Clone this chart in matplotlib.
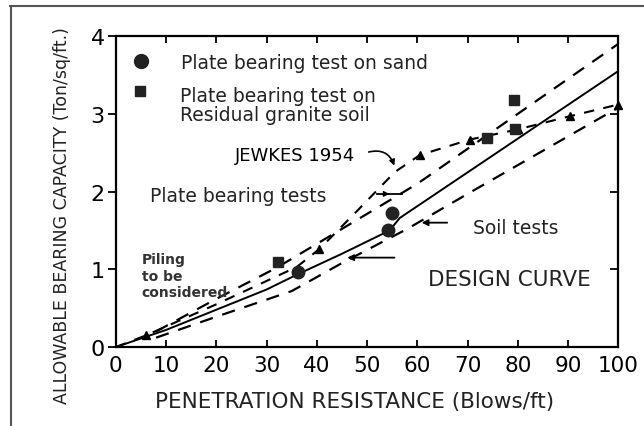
import matplotlib
matplotlib.use("Agg")
import matplotlib.pyplot as plt
from matplotlib.lines import Line2D

# values
design_x = [0, 10, 20, 30, 36, 45, 54.5, 56.5, 100]
design_y = [0, 0.22, 0.48, 0.74, 0.93, 1.2, 1.5, 1.66, 3.55]

upper_x = [8, 20, 32, 45, 60, 80, 100]
upper_y = [0.2, 0.62, 1.02, 1.52, 2.1, 3.0, 3.9]

lower_x = [8, 20, 35, 45, 58, 70, 100]
lower_y = [0.12, 0.39, 0.72, 1.08, 1.52, 1.97, 3.08]

jewkes_x = [0, 6, 20, 36, 40.5, 48, 55.5, 60.5, 70.5, 80, 90.4, 100]
jewkes_y = [0, 0.15, 0.55, 1.03, 1.26, 1.75, 2.25, 2.47, 2.67, 2.8, 2.97, 3.12]
tri_x = [6, 40.5, 60.5, 70.5, 80, 90.4, 100]
tri_y = [0.15, 1.26, 2.47, 2.67, 2.8, 2.97, 3.12]

sand_x = [36.3, 54.2, 54.9]
sand_y = [0.97, 1.50, 1.73]

granite_x = [32.3, 73.8, 79.2, 79.5]
granite_y = [1.09, 2.69, 3.18, 2.80]

xticks = [0, 10, 20, 30, 40, 50, 60, 70, 80, 90, 100]
yticks = [0, 1, 2, 3, 4]

plt.rcParams['font.family'] = ['DejaVu Sans']

fig = plt.figure(figsize=(6.44, 4.27), dpi=100)
ax = fig.add_axes([0.180, 0.185, 0.780, 0.728])

ax.plot(design_x, design_y, color='black', lw=1.4)
ax.plot(upper_x, upper_y, color='black', lw=1.6, dashes=(6, 4.5))
ax.plot(lower_x, lower_y, color='black', lw=1.6, dashes=(6, 4.5))
ax.plot(jewkes_x, jewkes_y, color='black', lw=1.5, dashes=(5, 4.5))
ax.plot(tri_x, tri_y, ls='none', marker='^', ms=6, color='black', clip_on=False)
ax.plot(sand_x, sand_y, ls='none', marker='o', ms=9, color='#222222', clip_on=False)
ax.plot(granite_x, granite_y, ls='none', marker='s', ms=7.5, color='#222222')

# legend drawn by hand, as in the original figure
ax.plot([5], [3.68], ls='none', marker='o', ms=10, color='#222222')
ax.plot([4.8], [3.30], ls='none', marker='s', ms=7, color='#222222')
ax.text(13, 3.66, 'Plate bearing test on sand', fontsize=13.5, va='center', color='#222222')
ax.text(12.8, 3.12, 'Plate bearing test on\nResidual granite soil', fontsize=13.5,
        va='center', linespacing=1.0, color='#222222')

ax.text(23.7, 2.47, 'JEWKES 1954', fontsize=13, va='center')
ax.annotate('', xy=(55.6, 2.3), xytext=(49.8, 2.5),
            arrowprops=dict(arrowstyle='-|>', color='black', lw=1.2,
                            connectionstyle='arc3,rad=-0.5', mutation_scale=8))

ax.text(6.8, 1.95, 'Plate bearing tests', fontsize=13.5, va='center', color='#222222')
ax.plot([52, 57], [1.97, 1.97], color='black', lw=1.3)
ax.annotate('', xy=(55, 1.97), xytext=(53.5, 1.97),
            arrowprops=dict(arrowstyle='-|>', color='black', lw=1, mutation_scale=8))

ax.text(71.1, 1.54, 'Soil tests', fontsize=13.5, va='center', color='#222222')
ax.annotate('', xy=(60.3, 1.6), xytext=(66.5, 1.6),
            arrowprops=dict(arrowstyle='-|>', color='black', lw=1.3, mutation_scale=9))

ax.text(62.2, 0.87, 'DESIGN CURVE', fontsize=15.5, va='center', color='#222222')
ax.annotate('', xy=(45.5, 1.15), xytext=(56, 1.15),
            arrowprops=dict(arrowstyle='-|>', color='black', lw=1.3, mutation_scale=9))

ax.text(5.1, 0.92, 'Piling\nto be\nconsidered', fontsize=10, va='center',
        fontweight='bold', color='#333333', linespacing=1.25)

ax.set_xlim(0, 100)
ax.set_ylim(0, 4)
ax.set_xticks(xticks)
ax.set_yticks(yticks)
ax.tick_params(axis='x', direction='in', top=True, length=5, width=1.3,
               labelsize=15.5, pad=6)
ax.tick_params(axis='y', direction='out', length=6, width=1.3, labelsize=16, pad=2)
ax.tick_params(axis='y', which='both', right=True)
for tk in ax.yaxis.get_major_ticks():
    tk.tick2line.set_marker(matplotlib.lines.TICKLEFT)
for s in ax.spines.values():
    s.set_linewidth(1.6)

fig.text(355 / 644, 1 - 402 / 427, 'PENETRATION RESISTANCE (Blows/ft)',
         fontsize=15.5, ha='center', va='center', color='#222222')
fig.text(62 / 644, 1 - 216 / 427, 'ALLOWABLE BEARING CAPACITY (Ton/sq/ft.)',
         fontsize=12.5, ha='center', va='center', rotation=90, color='#222222')

# scan frame
fig.add_artist(Line2D([10.5 / 644, 10.5 / 644], [0, 1 - 7 / 427],
                      transform=fig.transFigure, color='#555555', lw=1.5))
fig.add_artist(Line2D([10 / 644, 1], [1 - 7 / 427, 1 - 7 / 427],
                      transform=fig.transFigure, color='#555555', lw=1.5))

fig.savefig('out.png', dpi=100)
